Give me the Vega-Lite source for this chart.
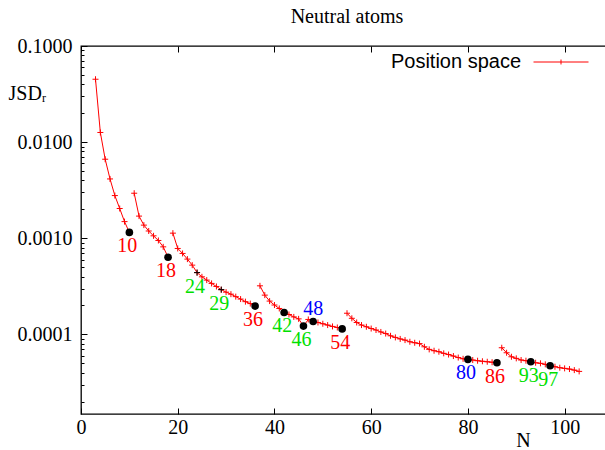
{
  "$schema": "https://vega.github.io/schema/vega-lite/v6.json",
  "autosize": "none",
  "padding": {"left": 81, "top": 46, "right": 0, "bottom": 36},
  "width": 532,
  "height": 368,
  "background": "white",
  "config": {
    "view": {"stroke": "black", "strokeWidth": 1.3},
    "font": "Liberation Serif"
  },
  "title": {
    "text": "Neutral atoms",
    "font": "Liberation Serif",
    "fontSize": 20,
    "fontWeight": "normal",
    "color": "black",
    "baseline": "alphabetic",
    "offset": 13,
    "dy": 22
  },
  "data": {
    "values": [
      {"N": 3, "JSD": 0.0451, "seg": 1, "series": "Position space"},
      {"N": 4, "JSD": 0.0126, "seg": 1, "series": "Position space"},
      {"N": 5, "JSD": 0.00664, "seg": 1, "series": "Position space"},
      {"N": 6, "JSD": 0.00414, "seg": 1, "series": "Position space"},
      {"N": 7, "JSD": 0.00278, "seg": 1, "series": "Position space"},
      {"N": 8, "JSD": 0.00204, "seg": 1, "series": "Position space"},
      {"N": 9, "JSD": 0.00149, "seg": 1, "series": "Position space"},
      {"N": 10, "JSD": 0.00115, "seg": 1, "series": "Position space", "label": "10", "class": "noble", "marker": "dot"},
      {"N": 11, "JSD": 0.00294, "seg": 2, "series": "Position space"},
      {"N": 12, "JSD": 0.0017, "seg": 2, "series": "Position space"},
      {"N": 13, "JSD": 0.00137, "seg": 2, "series": "Position space"},
      {"N": 14, "JSD": 0.00119, "seg": 2, "series": "Position space"},
      {"N": 15, "JSD": 0.00106, "seg": 2, "series": "Position space"},
      {"N": 16, "JSD": 0.000948, "seg": 2, "series": "Position space"},
      {"N": 17, "JSD": 0.000814, "seg": 2, "series": "Position space"},
      {"N": 18, "JSD": 0.000635, "seg": 2, "series": "Position space", "label": "18", "class": "noble", "marker": "dot"},
      {"N": 19, "JSD": 0.00113, "seg": 3, "series": "Position space"},
      {"N": 20, "JSD": 0.000783, "seg": 3, "series": "Position space"},
      {"N": 21, "JSD": 0.000695, "seg": 3, "series": "Position space"},
      {"N": 22, "JSD": 0.000607, "seg": 3, "series": "Position space"},
      {"N": 23, "JSD": 0.000525, "seg": 3, "series": "Position space"},
      {"N": 24, "JSD": 0.000439, "seg": 3, "series": "Position space", "label": "24", "class": "anomalous", "marker": "plus"},
      {"N": 25, "JSD": 0.000397, "seg": 3, "series": "Position space"},
      {"N": 26, "JSD": 0.000367, "seg": 3, "series": "Position space"},
      {"N": 27, "JSD": 0.000339, "seg": 3, "series": "Position space"},
      {"N": 28, "JSD": 0.000315, "seg": 3, "series": "Position space"},
      {"N": 29, "JSD": 0.000292, "seg": 3, "series": "Position space", "label": "29", "class": "anomalous", "marker": "plus"},
      {"N": 30, "JSD": 0.000275, "seg": 3, "series": "Position space"},
      {"N": 31, "JSD": 0.000262, "seg": 3, "series": "Position space"},
      {"N": 32, "JSD": 0.000247, "seg": 3, "series": "Position space"},
      {"N": 33, "JSD": 0.000233, "seg": 3, "series": "Position space"},
      {"N": 34, "JSD": 0.000219, "seg": 3, "series": "Position space"},
      {"N": 35, "JSD": 0.000209, "seg": 3, "series": "Position space"},
      {"N": 36, "JSD": 0.000197, "seg": 3, "series": "Position space", "label": "36", "class": "noble", "marker": "dot"},
      {"N": 37, "JSD": 0.00032, "seg": 4, "series": "Position space"},
      {"N": 38, "JSD": 0.000256, "seg": 4, "series": "Position space"},
      {"N": 39, "JSD": 0.000222, "seg": 4, "series": "Position space"},
      {"N": 40, "JSD": 0.000202, "seg": 4, "series": "Position space"},
      {"N": 41, "JSD": 0.000186, "seg": 4, "series": "Position space"},
      {"N": 42, "JSD": 0.000169, "seg": 4, "series": "Position space", "label": "42", "class": "anomalous", "marker": "dot"},
      {"N": 43, "JSD": 0.000161, "seg": 4, "series": "Position space"},
      {"N": 44, "JSD": 0.000152, "seg": 4, "series": "Position space"},
      {"N": 45, "JSD": 0.000145, "seg": 4, "series": "Position space"},
      {"N": 46, "JSD": 0.000122, "seg": 4, "series": "Position space", "label": "46", "class": "anomalous", "marker": "dot"},
      {"N": 47, "JSD": 0.000143, "seg": 4, "series": "Position space"},
      {"N": 48, "JSD": 0.000136, "seg": 4, "series": "Position space", "label": "48", "class": "closed-d", "marker": "dot"},
      {"N": 49, "JSD": 0.000133, "seg": 4, "series": "Position space"},
      {"N": 50, "JSD": 0.000129, "seg": 4, "series": "Position space"},
      {"N": 51, "JSD": 0.000125, "seg": 4, "series": "Position space"},
      {"N": 52, "JSD": 0.000121, "seg": 4, "series": "Position space"},
      {"N": 53, "JSD": 0.000118, "seg": 4, "series": "Position space"},
      {"N": 54, "JSD": 0.000114, "seg": 4, "series": "Position space", "label": "54", "class": "noble", "marker": "dot"},
      {"N": 55, "JSD": 0.000166, "seg": 5, "series": "Position space"},
      {"N": 56, "JSD": 0.000147, "seg": 5, "series": "Position space"},
      {"N": 57, "JSD": 0.000133, "seg": 5, "series": "Position space"},
      {"N": 58, "JSD": 0.000125, "seg": 5, "series": "Position space"},
      {"N": 59, "JSD": 0.00012, "seg": 5, "series": "Position space"},
      {"N": 60, "JSD": 0.000115, "seg": 5, "series": "Position space"},
      {"N": 61, "JSD": 0.000111, "seg": 5, "series": "Position space"},
      {"N": 62, "JSD": 0.000106, "seg": 5, "series": "Position space"},
      {"N": 63, "JSD": 0.000102, "seg": 5, "series": "Position space"},
      {"N": 64, "JSD": 0.0000967, "seg": 5, "series": "Position space"},
      {"N": 65, "JSD": 0.000093, "seg": 5, "series": "Position space"},
      {"N": 66, "JSD": 0.0000897, "seg": 5, "series": "Position space"},
      {"N": 67, "JSD": 0.0000872, "seg": 5, "series": "Position space"},
      {"N": 68, "JSD": 0.0000838, "seg": 5, "series": "Position space"},
      {"N": 69, "JSD": 0.0000818, "seg": 5, "series": "Position space"},
      {"N": 70, "JSD": 0.0000802, "seg": 5, "series": "Position space"},
      {"N": 71, "JSD": 0.0000743, "seg": 5, "series": "Position space"},
      {"N": 72, "JSD": 0.0000698, "seg": 5, "series": "Position space"},
      {"N": 73, "JSD": 0.0000676, "seg": 5, "series": "Position space"},
      {"N": 74, "JSD": 0.000066, "seg": 5, "series": "Position space"},
      {"N": 75, "JSD": 0.0000635, "seg": 5, "series": "Position space"},
      {"N": 76, "JSD": 0.0000617, "seg": 5, "series": "Position space"},
      {"N": 77, "JSD": 0.0000595, "seg": 5, "series": "Position space"},
      {"N": 78, "JSD": 0.0000574, "seg": 5, "series": "Position space"},
      {"N": 79, "JSD": 0.0000557, "seg": 5, "series": "Position space"},
      {"N": 80, "JSD": 0.0000549, "seg": 5, "series": "Position space", "label": "80", "class": "closed-d", "marker": "dot"},
      {"N": 81, "JSD": 0.0000541, "seg": 5, "series": "Position space"},
      {"N": 82, "JSD": 0.0000532, "seg": 5, "series": "Position space"},
      {"N": 83, "JSD": 0.0000525, "seg": 5, "series": "Position space"},
      {"N": 84, "JSD": 0.0000519, "seg": 5, "series": "Position space"},
      {"N": 85, "JSD": 0.0000513, "seg": 5, "series": "Position space"},
      {"N": 86, "JSD": 0.0000507, "seg": 5, "series": "Position space", "label": "86", "class": "noble", "marker": "dot"},
      {"N": 87, "JSD": 0.0000726, "seg": 6, "series": "Position space"},
      {"N": 88, "JSD": 0.0000644, "seg": 6, "series": "Position space"},
      {"N": 89, "JSD": 0.0000585, "seg": 6, "series": "Position space"},
      {"N": 90, "JSD": 0.0000563, "seg": 6, "series": "Position space"},
      {"N": 91, "JSD": 0.0000541, "seg": 6, "series": "Position space"},
      {"N": 92, "JSD": 0.0000532, "seg": 6, "series": "Position space"},
      {"N": 93, "JSD": 0.0000519, "seg": 6, "series": "Position space", "label": "93", "class": "anomalous", "marker": "dot"},
      {"N": 94, "JSD": 0.0000507, "seg": 6, "series": "Position space"},
      {"N": 95, "JSD": 0.00005, "seg": 6, "series": "Position space"},
      {"N": 96, "JSD": 0.0000488, "seg": 6, "series": "Position space"},
      {"N": 97, "JSD": 0.0000472, "seg": 6, "series": "Position space", "label": "97", "class": "anomalous", "marker": "dot"},
      {"N": 98, "JSD": 0.0000461, "seg": 6, "series": "Position space"},
      {"N": 99, "JSD": 0.000045, "seg": 6, "series": "Position space"},
      {"N": 100, "JSD": 0.0000443, "seg": 6, "series": "Position space"},
      {"N": 101, "JSD": 0.0000436, "seg": 6, "series": "Position space"},
      {"N": 102, "JSD": 0.0000425, "seg": 6, "series": "Position space"},
      {"N": 103, "JSD": 0.0000412, "seg": 6, "series": "Position space"}
    ]
  },
  "encoding": {
    "y": {
      "field": "JSD",
      "type": "quantitative",
      "scale": {"type": "log", "domain": [0.00001485, 0.1], "nice": false},
      "axis": {
        "values": [0.00002, 0.00003, 0.00004, 0.00005, 0.00006, 0.00007, 0.00008, 0.00009, 0.0001, 0.0002, 0.0003, 0.0004, 0.0005, 0.0006, 0.0007, 0.0008, 0.0009, 0.001, 0.002, 0.003, 0.004, 0.005, 0.006, 0.007, 0.008, 0.009, 0.01, 0.02, 0.03, 0.04, 0.05, 0.06, 0.07, 0.08, 0.09, 0.1],
        "labelExpr": "abs(log(datum.value)/LN10 - round(log(datum.value)/LN10)) < 0.000001 ? format(datum.value, '.4f') : ''",
        "tickSize": {"condition": {"test": "abs(log(datum.value)/LN10 - round(log(datum.value)/LN10)) < 0.000001", "value": -6}, "value": -3},
        "tickColor": "black",
        "tickWidth": 1,
        "domain": false,
        "grid": false,
        "labelFont": "Liberation Serif",
        "labelFontSize": 20,
        "labelColor": "black",
        "labelPadding": 15,
        "labelFlush": false,
        "labelOverlap": false,
        "title": "JSDᵣ",
        "titleFont": "Liberation Serif",
        "titleFontSize": 20,
        "titleFontWeight": "normal",
        "titleColor": "black",
        "titleAngle": 0,
        "titleAlign": "left",
        "titleBaseline": "alphabetic",
        "titleX": -73,
        "titleY": 53
      }
    }
  },
  "resolve": {"axis": {"x": "independent"}, "scale": {"color": "independent"}},
  "layer": [
    {
      "mark": {"type": "line", "strokeWidth": 1, "clip": true},
      "encoding": {
        "x": {
          "field": "N",
          "type": "quantitative",
          "scale": {"domain": [0, 110], "nice": false},
          "axis": {
            "values": [0, 20, 40, 60, 80, 100],
            "tickSize": -6,
            "tickColor": "black",
            "domain": false,
            "grid": false,
            "labelFont": "Liberation Serif",
            "labelFontSize": 20,
            "labelColor": "black",
            "labelPadding": 9,
            "labelFlush": false,
            "title": "N",
            "titleFont": "Liberation Serif",
            "titleFontSize": 20,
            "titleFontWeight": "normal",
            "titleColor": "black",
            "titleAlign": "center",
            "titleBaseline": "alphabetic",
            "titleX": 442,
            "titleY": 32
          }
        },
        "detail": {"field": "seg"},
        "color": {
          "field": "series",
          "type": "nominal",
          "scale": {"range": ["#ff0000"]},
          "legend": {
            "orient": "none",
            "legendX": 452,
            "legendY": -12,
            "title": null,
            "symbolType": "M-1,0H1M0,-0.09V0.09",
            "symbolSize": 3025,
            "symbolStrokeWidth": 1,
            "symbolFillColor": "transparent",
            "labelAlign": "right",
            "labelOffset": -68,
            "labelFont": "Liberation Sans",
            "labelFontSize": 20,
            "labelColor": "black",
            "labelLimit": 400
          }
        }
      }
    },
    {
      "mark": {"type": "point", "shape": "M-1,0H1M0,-1V1", "filled": false, "strokeWidth": 1, "size": 36, "color": "#ff0000", "opacity": 1},
      "encoding": {
        "x": {
          "field": "N",
          "type": "quantitative",
          "axis": {
            "orient": "top",
            "values": [0, 20, 40, 60, 80, 100],
            "tickSize": -6,
            "tickColor": "black",
            "domain": false,
            "grid": false,
            "labels": false,
            "title": null
          }
        }
      }
    },
    {
      "transform": [{"filter": "datum.marker == 'plus'"}],
      "mark": {"type": "point", "shape": "M-1,0H1M0,-1V1", "filled": false, "strokeWidth": 1, "size": 36, "color": "#000000", "opacity": 1},
      "encoding": {"x": {"field": "N", "type": "quantitative", "axis": null}}
    },
    {
      "transform": [{"filter": "datum.marker == 'dot'"}],
      "mark": {"type": "circle", "size": 58, "color": "#000000", "opacity": 1},
      "encoding": {"x": {"field": "N", "type": "quantitative", "axis": null}}
    },
    {
      "transform": [{"filter": "datum.label && datum.N != 48"}],
      "mark": {"type": "text", "font": "Liberation Serif", "fontSize": 20, "dx": -2, "dy": 14, "baseline": "middle", "align": "center"},
      "encoding": {
        "x": {"field": "N", "type": "quantitative", "axis": null},
        "text": {"field": "label"},
        "color": {"field": "class", "type": "nominal", "scale": {"domain": ["noble", "anomalous", "closed-d"], "range": ["#ff0000", "#00e000", "#0000ff"]}, "legend": null}
      }
    },
    {
      "transform": [{"filter": "datum.N == 48"}],
      "mark": {"type": "text", "font": "Liberation Serif", "fontSize": 20, "dy": -13, "baseline": "middle", "align": "center", "color": "#0000ff"},
      "encoding": {
        "x": {"field": "N", "type": "quantitative", "axis": null},
        "text": {"field": "label"}
      }
    }
  ]
}
